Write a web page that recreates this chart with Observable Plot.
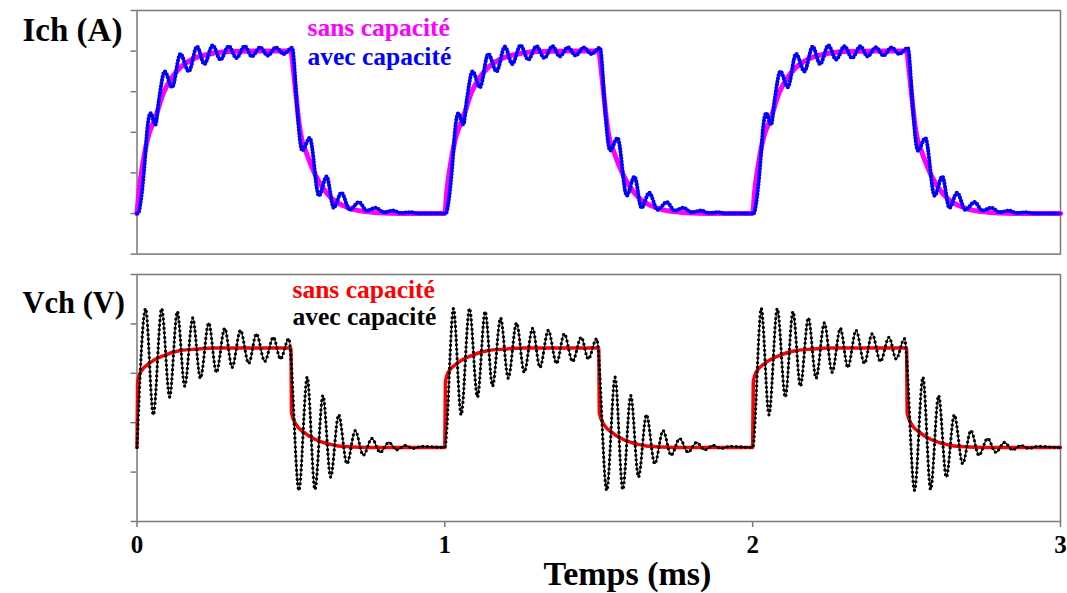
<!DOCTYPE html>
<html>
<head>
<meta charset="utf-8">
<script src="https://cdn.jsdelivr.net/npm/d3@7"></script>
<script src="https://cdn.jsdelivr.net/npm/@observablehq/plot@0.6"></script>
<style>
  html, body { margin: 0; padding: 0; background: #fff; }
  #chart { width: 1067px; height: 593px; position: relative; overflow: hidden; background: #fff; }
  #chart svg { display: block; }
  #chart svg text { font-family: "Liberation Serif", "Times New Roman", serif !important; font-weight: bold !important; }
</style>
</head>
<body>
<div id="chart"></div>
<script>
// ---------- data (one 1 ms period) ----------
const periods = [0, 1, 2];
const xTicks = [0, 1, 2, 3];
const ichTicks = [0, 1, 2, 3, 4, 5, 6];
const vchTicks = [0, 1, 2, 3, 4, 5];

// Ich, sans capacité (magenta)
const ichSansT = [0, 0.006, 0.017, 0.033, 0.06, 0.087, 0.114, 0.141, 0.168, 0.196, 0.25, 0.304, 0.4, 0.5,
                  0.507, 0.515, 0.526, 0.536, 0.55, 0.565, 0.58, 0.602, 0.634, 0.667, 0.7, 0.75, 0.8, 0.85, 0.99];
const ichSansV = [1.0, 1.52, 2.14, 2.8, 3.37, 3.99, 4.36, 4.6, 4.75, 4.85, 4.95, 4.99, 5.0, 5.0,
                  4.6, 4.03, 3.25, 2.8, 2.5, 2.2, 1.94, 1.65, 1.36, 1.2, 1.11, 1.04, 1.01, 1.0, 1.0];

// Ich, avec capacité (blue)
const ichAvecT = [0, 0.005, 0.011, 0.022, 0.028, 0.033, 0.044, 0.06, 0.071, 0.09, 0.114, 0.141, 0.168, 0.195,
                  0.219, 0.246, 0.271, 0.298, 0.323, 0.35, 0.373, 0.4, 0.425, 0.451, 0.476, 0.504,
                  0.52, 0.531, 0.537, 0.561, 0.591, 0.616, 0.639, 0.664, 0.691, 0.721, 0.746, 0.775,
                  0.802, 0.832, 0.858, 0.888, 0.912, 0.99];
const ichAvecV = [1.0, 1.02, 1.24, 1.98, 2.55, 3.04, 3.47, 3.19, 3.78, 4.5, 4.11, 4.93, 4.5, 5.11,
                  4.68, 5.14, 4.79, 5.12, 4.83, 5.12, 4.87, 5.09, 4.89, 5.09, 4.93, 5.08,
                  3.62, 2.72, 2.55, 2.86, 1.44, 1.91, 1.14, 1.51, 1.09, 1.28, 1.07, 1.14,
                  1.03, 1.07, 1.01, 1.03, 1.0, 1.0];

// Vch, sans capacité (red)
const vchSansT = [0, 0.002, 0.011, 0.044, 0.087, 0.141, 0.195, 0.25, 0.3, 0.5,
                  0.502, 0.515, 0.548, 0.591, 0.645, 0.7, 0.75, 0.8, 0.99];
const vchSansV = [1.5, 2.83, 3.02, 3.22, 3.36, 3.46, 3.49, 3.51, 3.51, 3.51,
                  2.2, 1.98, 1.78, 1.63, 1.54, 1.51, 1.5, 1.5, 1.5];

// Vch, avec capacité (black)
const vchAvecT = [0, 0.028, 0.053, 0.08, 0.106, 0.131, 0.155, 0.181, 0.206, 0.233, 0.258, 0.285, 0.309,
                  0.336, 0.363, 0.388, 0.415, 0.443, 0.466, 0.493,
                  0.526, 0.553, 0.578, 0.604, 0.629, 0.655, 0.682, 0.709, 0.735, 0.763, 0.79, 0.818,
                  0.844, 0.872, 0.897, 0.925, 0.99];
const vchAvecV = [1.5, 4.31, 2.16, 4.31, 2.52, 4.25, 2.74, 4.12, 2.9, 4.02, 3.02, 3.91, 3.12,
                  3.87, 3.2, 3.8, 3.24, 3.73, 3.29, 3.7,
                  0.63, 2.92, 0.65, 2.55, 0.9, 2.16, 1.17, 1.84, 1.34, 1.68, 1.4, 1.6,
                  1.45, 1.54, 1.48, 1.52, 1.5];

const legendLabels = ["sans capacité", "avec capacité"];
const ichTitle = "Ich (A)";
const vchTitle = "Vch (V)";
const xTitle = "Temps (ms)";

// ---------- build the three periods ----------
function build(T, V) {
  const rows = [];
  for (const p of periods) T.forEach((t, i) => rows.push({t: p + t, v: V[i]}));
  rows.push({t: 3, v: V[0]});
  return rows;
}
const ichSans = build(ichSansT, ichSansV);
const ichAvec = build(ichAvecT, ichAvecV);
const vchSans = build(vchSansT, vchSansV);
const vchAvec = build(vchAvecT, vchAvecV);

const FONT = "Liberation Serif";
const FRAME = "#7a7a7a";
const L = 136.5, R = 1060, W = 1067;
const txt = (s, o) => Plot.text([s], {textAnchor: "start", lineAnchor: "bottom", fontWeight: "bold", fontFamily: FONT, ...o});

// ---------- top panel: Ich ----------
const plotIch = Plot.plot({
  width: W, height: 262,
  marginLeft: L, marginRight: W - R, marginTop: 10, marginBottom: 262 - 253.6,
  style: {background: "transparent", fontFamily: FONT, overflow: "visible"},
  x: {domain: [0, 3], axis: null},
  y: {domain: [0, 6], axis: null},
  marks: [
    Plot.axisY(ichTicks, {tickSize: 6, tickFormat: () => "", label: null, stroke: FRAME, strokeWidth: 1.5}),
    Plot.frame({stroke: FRAME, strokeWidth: 1.5}),
    Plot.line(ichSans, {x: "t", y: "v", stroke: "#ff00ff", strokeWidth: 5, curve: "monotone-x"}),
    Plot.line(ichAvec, {x: "t", y: "v", stroke: "#0000ff", strokeWidth: 2.2, curve: "monotone-x"}),
    Plot.line(ichAvec, {x: "t", y: "v", stroke: "#0000ff", strokeWidth: 4.2, strokeDasharray: "0 3.2",
                        strokeLinecap: "round", curve: "monotone-x"}),
    txt(ichTitle, {frameAnchor: "top-left", dx: 22 - L, dy: 30, fontSize: 33, fill: "black"}),
    txt(legendLabels[0], {frameAnchor: "top-left", dx: 307 - L, dy: 25.5, fontSize: 25.5, fill: "#ff00ff"}),
    txt(legendLabels[1], {frameAnchor: "top-left", dx: 307 - L, dy: 54, fontSize: 25.5, fill: "#0000ff"})
  ]
});

// ---------- bottom panel: Vch ----------
const plotVch = Plot.plot({
  width: W, height: 331,
  marginLeft: L, marginRight: W - R, marginTop: 12, marginBottom: 72,
  style: {background: "transparent", fontFamily: FONT, overflow: "visible"},
  x: {domain: [0, 3], axis: null},
  y: {domain: [0, 5], axis: null},
  marks: [
    Plot.axisY(vchTicks, {tickSize: 6, tickFormat: () => "", label: null, stroke: FRAME, strokeWidth: 1.5}),
    Plot.axisX(xTicks, {tickSize: 6, tickPadding: 8, tickFormat: d => String(d), label: null,
                        stroke: FRAME, strokeWidth: 1.5, fill: "black",
                        fontSize: 25, fontWeight: "bold", fontFamily: FONT}),
    Plot.frame({stroke: FRAME, strokeWidth: 1.5}),
    Plot.line(vchSans, {x: "t", y: "v", stroke: "#ff0000", strokeWidth: 3.5, curve: "monotone-x"}),
    Plot.line(vchAvec, {x: "t", y: "v", stroke: "#000000", strokeWidth: 1.2, curve: "monotone-x"}),
    Plot.line(vchAvec, {x: "t", y: "v", stroke: "#000000", strokeWidth: 3.3, strokeDasharray: "0 4.6",
                        strokeLinecap: "round", curve: "monotone-x"}),
    txt(vchTitle, {frameAnchor: "top-left", dx: 22 - L, dy: 38, fontSize: 30.5, fill: "black"}),
    txt(legendLabels[0], {frameAnchor: "top-left", dx: 292 - L, dy: 23.5, fontSize: 25.5, fill: "#ff0000"}),
    txt(legendLabels[1], {frameAnchor: "top-left", dx: 292 - L, dy: 50, fontSize: 25.5, fill: "#000000"}),
    txt(xTitle, {frameAnchor: "bottom", dx: 627 - (L + R) / 2, dy: 63, textAnchor: "middle", fontSize: 34, fill: "black"})
  ]
});

const chart = document.getElementById("chart");
chart.appendChild(plotIch);
chart.appendChild(plotVch);
</script>
</body>
</html>
